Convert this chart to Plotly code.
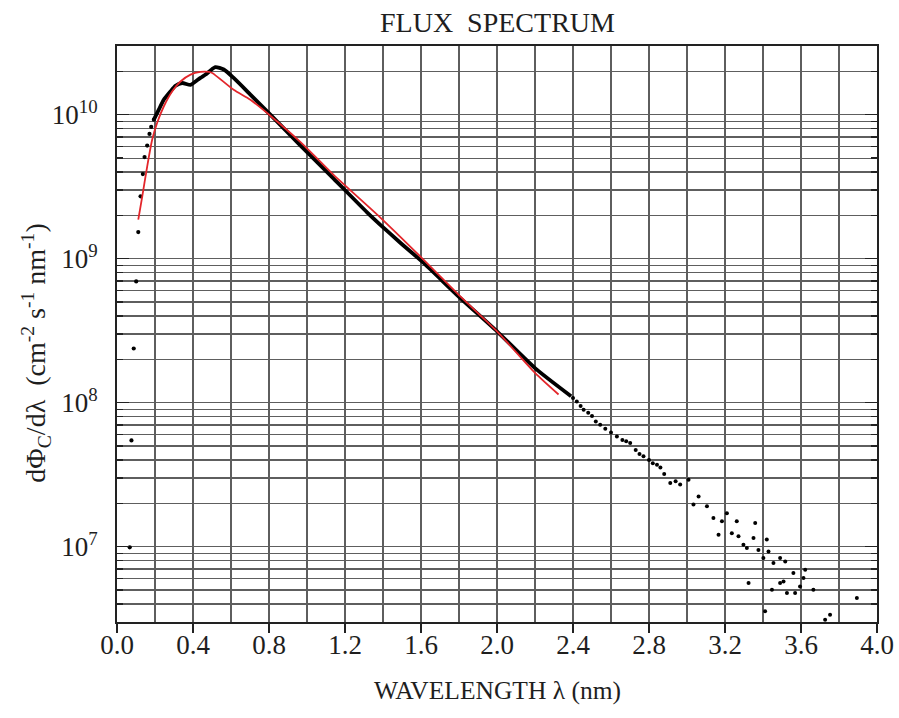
import plotly.graph_objects as go

# ---------------- data ----------------
# isolated low-wavelength points + rising edge (black dots)
x_rise = [0.067, 0.076, 0.088, 0.101, 0.112, 0.124, 0.136, 0.145, 0.159, 0.171, 0.180, 0.194]
y_rise = [9.9e6, 5.47e7, 2.38e8, 6.95e8, 1.53e9, 2.71e9, 3.87e9, 5.08e9, 6.10e9, 7.35e9, 8.22e9, 9.23e9]

# dense part of the measured spectrum (black)
x_dense = [0.194, 0.220, 0.246, 0.281, 0.308, 0.343, 0.387, 0.413, 0.439, 0.466, 0.492, 0.518,
           0.562, 0.614, 0.702, 0.807, 0.966, 1.140, 1.316, 1.386, 1.491, 1.605, 1.807, 2.000,
           2.200, 2.390]
y_dense = [9.23e9, 1.084e10, 1.27e10, 1.45e10, 1.59e10, 1.66e10, 1.61e10, 1.70e10, 1.80e10, 1.90e10,
           2.03e10, 2.14e10, 2.06e10, 1.80e10, 1.38e10, 1.00e10, 6.1e9, 3.6e9, 2.1e9, 1.72e9,
           1.29e9, 9.57e8, 5.33e8, 3.13e8, 1.74e8, 1.11e8]

# scattered tail (black dots)
x_tail = [2.40, 2.42, 2.44, 2.456, 2.48, 2.50, 2.52, 2.543, 2.57, 2.60, 2.631, 2.66, 2.68, 2.701,
          2.73, 2.75, 2.771, 2.80, 2.82, 2.842, 2.86, 2.88, 2.912, 2.94, 2.964, 3.008, 3.034,
          3.061, 3.105, 3.139, 3.166, 3.184, 3.210, 3.236, 3.262, 3.271, 3.297, 3.315, 3.324,
          3.350, 3.359, 3.376, 3.402, 3.411, 3.420, 3.429, 3.447, 3.455, 3.490, 3.490, 3.508,
          3.517, 3.526, 3.560, 3.569, 3.595, 3.613, 3.622, 3.665, 3.727, 3.753, 3.894]
y_tail = [1.08e8, 1.02e8, 9.5e7, 8.93e7, 8.5e7, 8.1e7, 7.4e7, 7.03e7, 6.6e7, 6.2e7, 5.83e7, 5.5e7,
          5.4e7, 5.25e7, 4.7e7, 4.4e7, 4.24e7, 4.0e7, 3.8e7, 3.71e7, 3.55e7, 3.2e7, 2.77e7, 2.85e7,
          2.70e7, 2.92e7, 1.96e7, 2.23e7, 1.91e7, 1.58e7, 1.21e7, 1.50e7, 1.71e7, 1.24e7, 1.50e7,
          1.18e7, 1.03e7, 9.8e6, 5.6e6, 1.15e7, 1.46e7, 9.5e6, 8.35e6, 3.56e6, 1.12e7, 9.27e6,
          5.02e6, 7.7e6, 8.35e6, 5.6e6, 5.74e6, 7.9e6, 4.77e6, 6.56e6, 4.77e6, 5.3e6, 6.07e6,
          6.92e6, 5.02e6, 3.11e6, 3.37e6, 4.41e6]

# fitted curve (red)
x_fit = [0.112, 0.133, 0.159, 0.185, 0.211, 0.246, 0.290, 0.334, 0.387, 0.439, 0.483, 0.501,
         0.614, 0.702, 0.807, 0.966, 1.140, 1.386, 1.605, 1.807, 2.000, 2.200, 2.324]
y_fit = [1.87e9, 2.71e9, 4.38e9, 6.70e9, 8.75e9, 1.14e10, 1.45e10, 1.70e10, 1.90e10, 1.98e10,
         1.98e10, 1.95e10, 1.49e10, 1.27e10, 9.84e9, 6.45e9, 3.82e9, 1.93e9, 1.01e9, 5.47e8,
         3.13e8, 1.61e8, 1.14e8]

x_ticks = [0.0, 0.4, 0.8, 1.2, 1.6, 2.0, 2.4, 2.8, 3.2, 3.6, 4.0]
x_ticktext = ["0.0", "0.4", "0.8", "1.2", "1.6", "2.0", "2.4", "2.8", "3.2", "3.6", "4.0"]
x_minor = [0.2, 0.6, 1.0, 1.4, 1.8, 2.2, 2.6, 3.0, 3.4, 3.8]
y_ticks = [1e7, 1e8, 1e9, 1e10]
y_ticktext = ["10<sup>7</sup>", "10<sup>8</sup>", "10<sup>9</sup>", "10<sup>10</sup>"]
y_minor = [m * 10 ** e for e in range(6, 11) for m in range(2, 10) if 3e6 <= m * 10 ** e <= 3e10]

# ---------------- figure ----------------
FONT = "Liberation Serif, Times New Roman, serif"
TXT = "#1e1e1e"
GRID = "#5e5e5e"

fig = go.Figure()
fig.add_trace(go.Scatter(x=x_dense, y=y_dense, mode="lines",
                         line=dict(color="black", width=3.8, shape="spline", smoothing=0.6),
                         hoverinfo="skip"))
fig.add_trace(go.Scatter(x=x_rise, y=y_rise, mode="markers",
                         marker=dict(color="black", size=4.2), hoverinfo="skip"))
fig.add_trace(go.Scatter(x=x_tail, y=y_tail, mode="markers",
                         marker=dict(color="black", size=4), hoverinfo="skip"))
fig.add_trace(go.Scatter(x=x_fit, y=y_fit, mode="lines",
                         line=dict(color="#e3262b", width=1.8, shape="spline", smoothing=0.7),
                         hoverinfo="skip"))

fig.update_layout(
    width=899, height=718,
    margin=dict(l=116.5, r=22, t=45.7, b=96.3, autoexpand=False),
    paper_bgcolor="white", plot_bgcolor="white",
    showlegend=False,
    font=dict(family=FONT, color=TXT, size=27),
    xaxis=dict(
        range=[0, 4.0], tickmode="array", tickvals=x_ticks, ticktext=x_ticktext,
        ticks="outside", ticklen=9, tickwidth=1.5, tickcolor="#222",
        showline=True, linecolor="#222", linewidth=2, mirror=True, automargin=False,
        showgrid=True, gridcolor=GRID, gridwidth=1.3, zeroline=False, ticklabelstandoff=-11,
        tickfont=dict(family=FONT, size=27, color=TXT),
        minor=dict(tickvals=x_minor, showgrid=True, gridcolor=GRID, gridwidth=1.3, ticks=""),
    ),
    yaxis=dict(
        type="log", range=[6.4771, 10.4771], tickmode="array", tickvals=y_ticks, ticktext=y_ticktext,
        ticks="inside", ticklen=12, tickwidth=1.5, tickcolor="#222",
        showline=True, linecolor="#222", linewidth=2, mirror="allticks", automargin=False,
        showgrid=True, gridcolor=GRID, gridwidth=1.3, zeroline=False, ticklabelstandoff=12,
        tickfont=dict(family=FONT, size=27, color=TXT),
        minor=dict(tickvals=y_minor, showgrid=True, gridcolor=GRID, gridwidth=1.1,
                   ticks="inside", ticklen=6, tickwidth=1.5, tickcolor="#222"),
    ),
    annotations=[
        dict(text="FLUX  SPECTRUM", xref="paper", yref="paper", x=0.5, y=1.041,
             xanchor="center", yanchor="middle", showarrow=False,
             font=dict(family=FONT, size=28, color=TXT)),
        dict(text="WAVELENGTH λ (nm)", xref="paper", yref="paper", x=0.5, y=-0.1186,
             xanchor="center", yanchor="middle", showarrow=False,
             font=dict(family=FONT, size=25.5, color=TXT)),
        dict(text="dΦ<sub>C</sub>/dλ  (cm<sup>-2</sup> s<sup>-1</sup> nm<sup>-1</sup>)",
             xref="paper", yref="paper", x=-0.107, y=0.467, textangle=-90,
             xanchor="center", yanchor="middle", showarrow=False,
             font=dict(family=FONT, size=28, color=TXT)),
    ],
)

# remove the default page margin so the 899x718 figure fills the window exactly
fig.write_html("out.html",
               config={"displayModeBar": False, "staticPlot": True},
               post_script="document.body.style.margin='0';document.body.style.overflow='hidden';")
